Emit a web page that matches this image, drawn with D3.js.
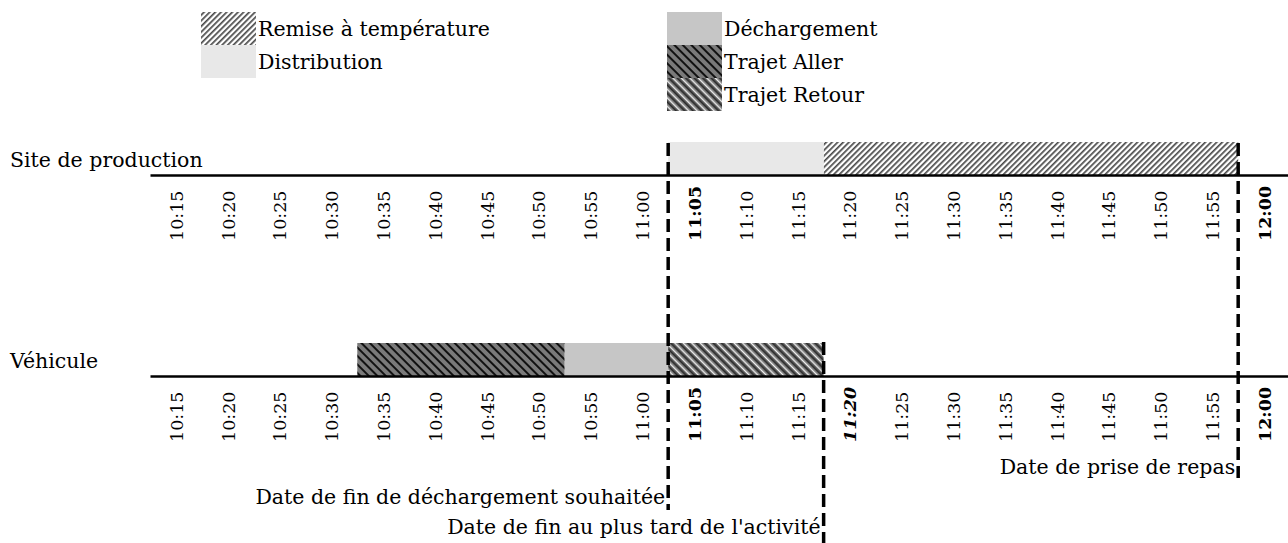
<!DOCTYPE html>
<html>
<head>
<meta charset="utf-8">
<script src="https://cdn.jsdelivr.net/npm/d3@7"></script>
<style>
  body { margin: 0; background: #fff; }
  text { font-family: "DejaVu Serif", serif; fill: #000; }
</style>
</head>
<body>
<svg id="chart"></svg>
<script>
// ---- data ----
var rowNames = ["Site de production", "Véhicule"];

var taskNames = ["Remise à température", "Distribution", "Déchargement", "Trajet Aller", "Trajet Retour"];
var taskRow = [0, 0, 1, 1, 1];
var taskStart = ["11:20", "11:05", "10:55", "10:35", "11:05"];
var taskEnd = ["12:00", "11:20", "11:05", "10:55", "11:20"];

var tickLabels = ["10:15", "10:20", "10:25", "10:30", "10:35", "10:40", "10:45", "10:50",
  "10:55", "11:00", "11:05", "11:10", "11:15", "11:20", "11:25", "11:30", "11:35",
  "11:40", "11:45", "11:50", "11:55", "12:00"];
var boldTicks = [["11:05", "12:00"], ["11:05", "11:20", "12:00"]];
var italicTicks = [[], ["11:20"]];

var markerTimes = ["11:05", "12:00", "11:20"];
var markerLabels = ["Date de fin de déchargement souhaitée", "Date de prise de repas",
  "Date de fin au plus tard de l'activité"];

// ---- layout ----
var width = 1288, height = 543;
var rowAxisY = [175, 376];
var barH = 33;
var markerTop = [143, 143, 342];
var markerBottom = [510, 478, 543];
var markerLabelY = [497, 467, 527];
var legendX = [201, 201, 667, 667, 667];
var legendY = [12, 45, 12, 45, 78];
var swatchW = 55, swatchH = 33;

function toMin(s) {
  var p = s.split(":");
  return +p[0] * 60 + +p[1];
}

var svg = d3.select("#chart").attr("width", width).attr("height", height);

var defs = svg.append("defs");
function stripes(id, bg, size, stripeW, color, angle, extra) {
  var p = defs.append("pattern")
    .attr("id", id)
    .attr("patternUnits", "userSpaceOnUse")
    .attr("width", size)
    .attr("height", size)
    .attr("patternTransform", "rotate(" + angle + ")");
  p.append("rect").attr("width", size).attr("height", size).attr("fill", bg);
  p.append("rect").attr("width", stripeW).attr("height", size).attr("fill", color);
  if (extra) {
    p.append("rect").attr("x", size / 2).attr("width", extra.w).attr("height", size).attr("fill", extra.color);
  }
}
stripes("pRemise", "#ffffff", 4, 1.7, "#4a4a4a", 45);
stripes("pAller", "#7a7a7a", 6, 2, "#111111", -45);
stripes("pRetour", "#707070", 6, 1.3, "#f0f0f0", -45, { w: 1.6, color: "#2a2a2a" });

var taskFill = ["url(#pRemise)", "#e8e8e8", "#c6c6c6", "url(#pAller)", "url(#pRetour)"];

var x = d3.scaleLinear().domain([toMin("10:15"), toMin("12:05")]).range([150, 1290]);
var cell = x(toMin("10:20")) - x(toMin("10:15"));

// legend
var leg = svg.append("g");
taskNames.forEach(function (name, i) {
  leg.append("rect")
    .attr("x", legendX[i]).attr("y", legendY[i])
    .attr("width", swatchW).attr("height", swatchH)
    .attr("fill", taskFill[i]);
  leg.append("text")
    .attr("x", legendX[i] + swatchW + 2)
    .attr("y", legendY[i] + swatchH / 2)
    .attr("dy", "0.35em")
    .style("font-size", "20.5px")
    .text(name);
});

// bars
svg.selectAll(".bar")
  .data(taskNames)
  .enter()
  .append("rect")
  .attr("class", "bar")
  .attr("x", function (d, i) { return x(toMin(taskStart[i])); })
  .attr("y", function (d, i) { return rowAxisY[taskRow[i]] - barH; })
  .attr("width", function (d, i) { return x(toMin(taskEnd[i])) - x(toMin(taskStart[i])); })
  .attr("height", barH)
  .attr("fill", function (d, i) { return taskFill[i]; });

// axes
rowNames.forEach(function (name, r) {
  var axis = d3.axisBottom(x)
    .tickValues(tickLabels.map(toMin))
    .tickFormat(function (d, i) { return tickLabels[i]; })
    .tickSizeInner(0)
    .tickSizeOuter(0);
  var g = svg.append("g")
    .attr("transform", "translate(0," + rowAxisY[r] + ")")
    .call(axis);
  g.select(".domain").attr("stroke", "#000").attr("stroke-width", 2.5);
  g.selectAll(".tick text")
    .attr("x", 0).attr("y", 0)
    .attr("dy", "0.36em")
    .attr("text-anchor", "start")
    .attr("transform", "translate(" + cell / 2 + ",66) rotate(-90)")
    .style("font-family", "DejaVu Serif")
    .style("font-size", "17.5px")
    .style("font-weight", function (d, i) { return boldTicks[r].indexOf(tickLabels[i]) >= 0 ? "bold" : "normal"; })
    .style("font-style", function (d, i) { return italicTicks[r].indexOf(tickLabels[i]) >= 0 ? "italic" : "normal"; })
    .attr("fill", "#000");

  svg.append("text")
    .attr("x", 10)
    .attr("y", rowAxisY[r] - 15)
    .attr("dy", "0.35em")
    .style("font-size", "20.5px")
    .text(name);
});

// dashed markers
markerTimes.forEach(function (t, i) {
  var mx = x(toMin(t));
  svg.append("line")
    .attr("x1", mx).attr("x2", mx)
    .attr("y1", markerTop[i]).attr("y2", markerBottom[i])
    .attr("stroke", "#000")
    .attr("stroke-width", 3.5)
    .attr("stroke-dasharray", "13,6");
  svg.append("text")
    .attr("x", mx - 3)
    .attr("y", markerLabelY[i])
    .attr("dy", "0.35em")
    .attr("text-anchor", "end")
    .style("font-size", "20.5px")
    .text(markerLabels[i]);
});
</script>
</body>
</html>
